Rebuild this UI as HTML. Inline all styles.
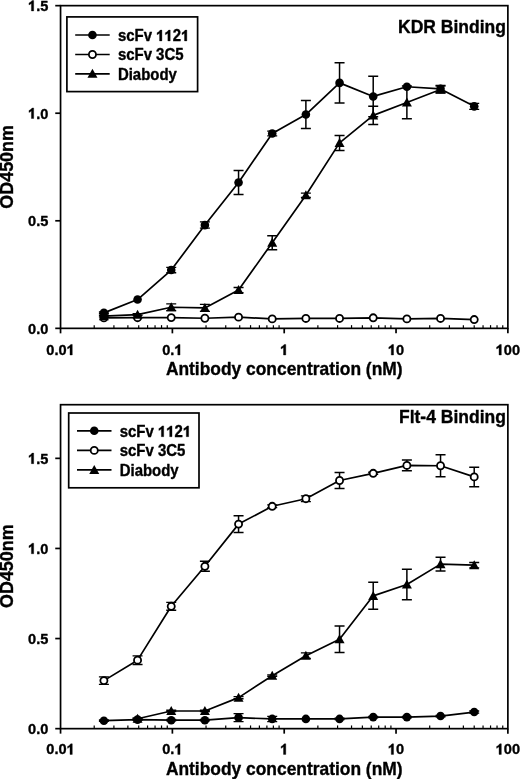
<!DOCTYPE html>
<html><head><meta charset="utf-8"><style>
html,body{margin:0;padding:0;background:#fff;}
svg{display:block;will-change:transform;}
.t{font-family:"Liberation Sans",sans-serif;font-weight:bold;font-size:14.6px;fill:#000;}
.lg{font-family:"Liberation Sans",sans-serif;font-weight:bold;font-size:14.95px;fill:#000;}
.tt{font-family:"Liberation Sans",sans-serif;font-weight:bold;font-size:17.5px;fill:#000;}
.at{font-family:"Liberation Sans",sans-serif;font-weight:bold;font-size:17.4px;fill:#000;}
.yt{font-family:"Liberation Sans",sans-serif;font-weight:bold;font-size:17.9px;fill:#000;}
text{stroke:#000;stroke-width:0.35px;stroke-linejoin:round;font-kerning:none;}
</style></head><body>
<svg width="520" height="779" viewBox="0 0 520 779">
<rect width="520" height="779" fill="#fff"/>
<rect x="60.55" y="5.65" width="447.32" height="322.70" fill="none" stroke="#000" stroke-width="1.7"/>
<line x1="55.25" y1="328.35" x2="60.55" y2="328.35" stroke="#000" stroke-width="1.7"/>
<text transform="translate(48.35,333.65) scale(1,1.05)" text-anchor="end" class="t">0.0</text>
<line x1="55.25" y1="220.79" x2="60.55" y2="220.79" stroke="#000" stroke-width="1.7"/>
<text transform="translate(48.35,226.09) scale(1,1.05)" text-anchor="end" class="t">0.5</text>
<line x1="55.25" y1="113.22" x2="60.55" y2="113.22" stroke="#000" stroke-width="1.7"/>
<g transform="translate(48.35,118.52) scale(1,1.05)"><text x="-12.18 -8.12" y="0" class="t">.0</text><path transform="translate(-20.30,0) scale(0.00713,-0.00713)" d="M790,0 L470,0 L470,1010 C370,925 260,860 130,810 L130,1070 C215,1100 310,1155 400,1230 C490,1305 550,1365 585,1409 L790,1409 Z" fill="#000" stroke="#000" stroke-width="49.1" stroke-linejoin="round"/></g>
<line x1="55.25" y1="5.66" x2="60.55" y2="5.66" stroke="#000" stroke-width="1.7"/>
<g transform="translate(48.35,10.96) scale(1,1.05)"><text x="-12.18 -8.12" y="0" class="t">.5</text><path transform="translate(-20.30,0) scale(0.00713,-0.00713)" d="M790,0 L470,0 L470,1010 C370,925 260,860 130,810 L130,1070 C215,1100 310,1155 400,1230 C490,1305 550,1365 585,1409 L790,1409 Z" fill="#000" stroke="#000" stroke-width="49.1" stroke-linejoin="round"/></g>
<line x1="60.55" y1="328.35" x2="60.55" y2="333.35" stroke="#000" stroke-width="1.7"/>
<g transform="translate(60.55,355.00) scale(1,1.05)"><text x="-14.21 -6.09 -2.03" y="0" class="t">0.0</text><path transform="translate(6.09,0) scale(0.00713,-0.00713)" d="M790,0 L470,0 L470,1010 C370,925 260,860 130,810 L130,1070 C215,1100 310,1155 400,1230 C490,1305 550,1365 585,1409 L790,1409 Z" fill="#000" stroke="#000" stroke-width="49.1" stroke-linejoin="round"/></g>
<line x1="94.21" y1="325.15" x2="94.21" y2="328.35" stroke="#000" stroke-width="1.2"/>
<line x1="113.91" y1="325.15" x2="113.91" y2="328.35" stroke="#000" stroke-width="1.2"/>
<line x1="127.88" y1="325.15" x2="127.88" y2="328.35" stroke="#000" stroke-width="1.2"/>
<line x1="138.72" y1="325.15" x2="138.72" y2="328.35" stroke="#000" stroke-width="1.2"/>
<line x1="147.57" y1="325.15" x2="147.57" y2="328.35" stroke="#000" stroke-width="1.2"/>
<line x1="155.06" y1="325.15" x2="155.06" y2="328.35" stroke="#000" stroke-width="1.2"/>
<line x1="161.54" y1="325.15" x2="161.54" y2="328.35" stroke="#000" stroke-width="1.2"/>
<line x1="167.26" y1="325.15" x2="167.26" y2="328.35" stroke="#000" stroke-width="1.2"/>
<line x1="172.38" y1="328.35" x2="172.38" y2="333.35" stroke="#000" stroke-width="1.7"/>
<g transform="translate(172.38,355.00) scale(1,1.05)"><text x="-10.15 -2.03" y="0" class="t">0.</text><path transform="translate(2.03,0) scale(0.00713,-0.00713)" d="M790,0 L470,0 L470,1010 C370,925 260,860 130,810 L130,1070 C215,1100 310,1155 400,1230 C490,1305 550,1365 585,1409 L790,1409 Z" fill="#000" stroke="#000" stroke-width="49.1" stroke-linejoin="round"/></g>
<line x1="206.04" y1="325.15" x2="206.04" y2="328.35" stroke="#000" stroke-width="1.2"/>
<line x1="225.74" y1="325.15" x2="225.74" y2="328.35" stroke="#000" stroke-width="1.2"/>
<line x1="239.71" y1="325.15" x2="239.71" y2="328.35" stroke="#000" stroke-width="1.2"/>
<line x1="250.55" y1="325.15" x2="250.55" y2="328.35" stroke="#000" stroke-width="1.2"/>
<line x1="259.40" y1="325.15" x2="259.40" y2="328.35" stroke="#000" stroke-width="1.2"/>
<line x1="266.89" y1="325.15" x2="266.89" y2="328.35" stroke="#000" stroke-width="1.2"/>
<line x1="273.37" y1="325.15" x2="273.37" y2="328.35" stroke="#000" stroke-width="1.2"/>
<line x1="279.09" y1="325.15" x2="279.09" y2="328.35" stroke="#000" stroke-width="1.2"/>
<line x1="284.21" y1="328.35" x2="284.21" y2="333.35" stroke="#000" stroke-width="1.7"/>
<g transform="translate(284.21,355.00) scale(1,1.05)"><path transform="translate(-4.06,0) scale(0.00713,-0.00713)" d="M790,0 L470,0 L470,1010 C370,925 260,860 130,810 L130,1070 C215,1100 310,1155 400,1230 C490,1305 550,1365 585,1409 L790,1409 Z" fill="#000" stroke="#000" stroke-width="49.1" stroke-linejoin="round"/></g>
<line x1="317.87" y1="325.15" x2="317.87" y2="328.35" stroke="#000" stroke-width="1.2"/>
<line x1="337.57" y1="325.15" x2="337.57" y2="328.35" stroke="#000" stroke-width="1.2"/>
<line x1="351.54" y1="325.15" x2="351.54" y2="328.35" stroke="#000" stroke-width="1.2"/>
<line x1="362.38" y1="325.15" x2="362.38" y2="328.35" stroke="#000" stroke-width="1.2"/>
<line x1="371.23" y1="325.15" x2="371.23" y2="328.35" stroke="#000" stroke-width="1.2"/>
<line x1="378.72" y1="325.15" x2="378.72" y2="328.35" stroke="#000" stroke-width="1.2"/>
<line x1="385.20" y1="325.15" x2="385.20" y2="328.35" stroke="#000" stroke-width="1.2"/>
<line x1="390.92" y1="325.15" x2="390.92" y2="328.35" stroke="#000" stroke-width="1.2"/>
<line x1="396.04" y1="328.35" x2="396.04" y2="333.35" stroke="#000" stroke-width="1.7"/>
<g transform="translate(396.04,355.00) scale(1,1.05)"><text x="0.00" y="0" class="t">0</text><path transform="translate(-8.12,0) scale(0.00713,-0.00713)" d="M790,0 L470,0 L470,1010 C370,925 260,860 130,810 L130,1070 C215,1100 310,1155 400,1230 C490,1305 550,1365 585,1409 L790,1409 Z" fill="#000" stroke="#000" stroke-width="49.1" stroke-linejoin="round"/></g>
<line x1="429.70" y1="325.15" x2="429.70" y2="328.35" stroke="#000" stroke-width="1.2"/>
<line x1="449.40" y1="325.15" x2="449.40" y2="328.35" stroke="#000" stroke-width="1.2"/>
<line x1="463.37" y1="325.15" x2="463.37" y2="328.35" stroke="#000" stroke-width="1.2"/>
<line x1="474.21" y1="325.15" x2="474.21" y2="328.35" stroke="#000" stroke-width="1.2"/>
<line x1="483.06" y1="325.15" x2="483.06" y2="328.35" stroke="#000" stroke-width="1.2"/>
<line x1="490.55" y1="325.15" x2="490.55" y2="328.35" stroke="#000" stroke-width="1.2"/>
<line x1="497.03" y1="325.15" x2="497.03" y2="328.35" stroke="#000" stroke-width="1.2"/>
<line x1="502.75" y1="325.15" x2="502.75" y2="328.35" stroke="#000" stroke-width="1.2"/>
<line x1="507.87" y1="328.35" x2="507.87" y2="333.35" stroke="#000" stroke-width="1.7"/>
<g transform="translate(507.87,355.00) scale(1,1.05)"><text x="-4.06 4.06" y="0" class="t">00</text><path transform="translate(-12.18,0) scale(0.00713,-0.00713)" d="M790,0 L470,0 L470,1010 C370,925 260,860 130,810 L130,1070 C215,1100 310,1155 400,1230 C490,1305 550,1365 585,1409 L790,1409 Z" fill="#000" stroke="#000" stroke-width="49.1" stroke-linejoin="round"/></g>
<text transform="translate(505.90,32.70) scale(1,1.05)" text-anchor="end" class="tt">KDR Binding</text>
<text transform="translate(284.21,374.70) scale(1,1.05)" text-anchor="middle" class="at">Antibody concentration (nM)</text>
<text transform="translate(13.40,166.90) rotate(-90) scale(1,1.05)" text-anchor="middle" class="yt">OD450nm</text>
<path d="M103.90,317.92 L137.56,317.70 L171.23,317.59 L204.89,318.24 L238.56,317.16 L272.22,318.88 L305.88,318.45 L339.55,318.45 L373.21,317.81 L406.88,318.88 L440.54,318.45 L474.21,319.53" fill="none" stroke="#000" stroke-width="1.7" stroke-linejoin="round"/>
<path d="M103.90,316.09 L137.56,314.58 L171.23,307.27 L204.89,307.91 L238.56,290.06 L272.22,242.73 L305.88,195.18 L339.55,142.91 L373.21,115.37 L406.88,102.46 L440.54,89.56" fill="none" stroke="#000" stroke-width="1.7" stroke-linejoin="round"/>
<path d="M103.90,312.86 L137.56,299.52 L171.23,270.05 L204.89,225.09 L238.56,182.49 L272.22,133.44 L305.88,114.51 L339.55,82.89 L373.21,96.44 L406.88,86.76 L440.54,88.91 L474.21,106.34" fill="none" stroke="#000" stroke-width="1.7" stroke-linejoin="round"/>
<circle cx="103.90" cy="317.92" r="3.55" fill="#fff" stroke="#000" stroke-width="1.8"/>
<circle cx="137.56" cy="317.70" r="3.55" fill="#fff" stroke="#000" stroke-width="1.8"/>
<circle cx="171.23" cy="317.59" r="3.55" fill="#fff" stroke="#000" stroke-width="1.8"/>
<circle cx="204.89" cy="318.24" r="3.55" fill="#fff" stroke="#000" stroke-width="1.8"/>
<circle cx="238.56" cy="317.16" r="3.55" fill="#fff" stroke="#000" stroke-width="1.8"/>
<circle cx="272.22" cy="318.88" r="3.55" fill="#fff" stroke="#000" stroke-width="1.8"/>
<circle cx="305.88" cy="318.45" r="3.55" fill="#fff" stroke="#000" stroke-width="1.8"/>
<circle cx="339.55" cy="318.45" r="3.55" fill="#fff" stroke="#000" stroke-width="1.8"/>
<circle cx="373.21" cy="317.81" r="3.55" fill="#fff" stroke="#000" stroke-width="1.8"/>
<circle cx="406.88" cy="318.88" r="3.55" fill="#fff" stroke="#000" stroke-width="1.8"/>
<circle cx="440.54" cy="318.45" r="3.55" fill="#fff" stroke="#000" stroke-width="1.8"/>
<circle cx="474.21" cy="319.53" r="3.55" fill="#fff" stroke="#000" stroke-width="1.8"/>
<path d="M98.90,315.23 H108.90 M98.90,316.95 H108.90" stroke="#000" stroke-width="1.3" fill="none"/>
<path d="M103.90,311.14 L108.90,320.14 L98.90,320.14Z" fill="#000"/>
<path d="M132.56,313.72 H142.56 M132.56,315.44 H142.56" stroke="#000" stroke-width="1.3" fill="none"/>
<path d="M137.56,309.63 L142.56,318.63 L132.56,318.63Z" fill="#000"/>
<path d="M166.23,303.83 H176.23 M166.23,310.71 H176.23" stroke="#000" stroke-width="1.3" fill="none"/>
<path d="M171.23,302.32 L176.23,311.32 L166.23,311.32Z" fill="#000"/>
<path d="M199.89,304.47 H209.89 M199.89,311.35 H209.89" stroke="#000" stroke-width="1.3" fill="none"/>
<path d="M204.89,302.96 L209.89,311.96 L199.89,311.96Z" fill="#000"/>
<path d="M233.56,287.48 H243.56 M233.56,292.64 H243.56" stroke="#000" stroke-width="1.3" fill="none"/>
<path d="M238.56,285.11 L243.56,294.11 L233.56,294.11Z" fill="#000"/>
<path d="M272.22,235.63 V249.83 M267.22,235.63 H277.22 M267.22,249.83 H277.22" stroke="#000" stroke-width="1.5" fill="none"/>
<path d="M272.22,237.78 L277.22,246.78 L267.22,246.78Z" fill="#000"/>
<path d="M300.88,193.03 H310.88 M300.88,197.34 H310.88" stroke="#000" stroke-width="1.3" fill="none"/>
<path d="M305.88,190.23 L310.88,199.23 L300.88,199.23Z" fill="#000"/>
<path d="M339.55,135.38 V150.44 M334.55,135.38 H344.55 M334.55,150.44 H344.55" stroke="#000" stroke-width="1.5" fill="none"/>
<path d="M339.55,137.96 L344.55,146.96 L334.55,146.96Z" fill="#000"/>
<path d="M373.21,106.34 V124.41 M368.21,106.34 H378.21 M368.21,124.41 H378.21" stroke="#000" stroke-width="1.5" fill="none"/>
<path d="M373.21,110.42 L378.21,119.42 L368.21,119.42Z" fill="#000"/>
<path d="M406.88,86.11 V118.81 M401.88,86.11 H411.88 M401.88,118.81 H411.88" stroke="#000" stroke-width="1.5" fill="none"/>
<path d="M406.88,97.51 L411.88,106.51 L401.88,106.51Z" fill="#000"/>
<path d="M435.54,86.11 H445.54 M435.54,93.00 H445.54" stroke="#000" stroke-width="1.3" fill="none"/>
<path d="M440.54,84.61 L445.54,93.61 L435.54,93.61Z" fill="#000"/>
<path d="M98.90,312.00 H108.90 M98.90,313.72 H108.90" stroke="#000" stroke-width="1.3" fill="none"/>
<circle cx="103.90" cy="312.86" r="4.3" fill="#000"/>
<circle cx="137.56" cy="299.52" r="4.3" fill="#000"/>
<path d="M166.23,267.36 H176.23 M166.23,272.74 H176.23" stroke="#000" stroke-width="1.3" fill="none"/>
<circle cx="171.23" cy="270.05" r="4.3" fill="#000"/>
<path d="M199.89,221.97 H209.89 M199.89,228.21 H209.89" stroke="#000" stroke-width="1.3" fill="none"/>
<circle cx="204.89" cy="225.09" r="4.3" fill="#000"/>
<path d="M238.56,170.44 V194.54 M233.56,170.44 H243.56 M233.56,194.54 H243.56" stroke="#000" stroke-width="1.5" fill="none"/>
<circle cx="238.56" cy="182.49" r="4.3" fill="#000"/>
<path d="M267.22,131.08 H277.22 M267.22,135.81 H277.22" stroke="#000" stroke-width="1.3" fill="none"/>
<circle cx="272.22" cy="133.44" r="4.3" fill="#000"/>
<path d="M305.88,100.53 V128.49 M300.88,100.53 H310.88 M300.88,128.49 H310.88" stroke="#000" stroke-width="1.5" fill="none"/>
<circle cx="305.88" cy="114.51" r="4.3" fill="#000"/>
<path d="M339.55,62.66 V103.11 M334.55,62.66 H344.55 M334.55,103.11 H344.55" stroke="#000" stroke-width="1.5" fill="none"/>
<circle cx="339.55" cy="82.89" r="4.3" fill="#000"/>
<path d="M373.21,76.22 V116.66 M368.21,76.22 H378.21 M368.21,116.66 H378.21" stroke="#000" stroke-width="1.5" fill="none"/>
<circle cx="373.21" cy="96.44" r="4.3" fill="#000"/>
<circle cx="406.88" cy="86.76" r="4.3" fill="#000"/>
<path d="M435.54,85.47 H445.54 M435.54,92.35 H445.54" stroke="#000" stroke-width="1.3" fill="none"/>
<circle cx="440.54" cy="88.91" r="4.3" fill="#000"/>
<path d="M469.21,103.32 H479.21 M469.21,109.35 H479.21" stroke="#000" stroke-width="1.3" fill="none"/>
<circle cx="474.21" cy="106.34" r="4.3" fill="#000"/>
<rect x="66.90" y="16.90" width="130.70" height="74.70" fill="#fff" stroke="#000" stroke-width="1.7"/>
<line x1="75.20" y1="35.00" x2="109.70" y2="35.00" stroke="#000" stroke-width="1.7"/>
<circle cx="92.45" cy="35.00" r="4.3" fill="#000"/>
<g transform="translate(117.90,40.90) scale(1,1.05)"><text x="0.00 8.31 16.63 25.76 54.86" y="0" class="lg">scFv2</text><path transform="translate(38.23,0) scale(0.00730,-0.00730)" d="M790,0 L470,0 L470,1010 C370,925 260,860 130,810 L130,1070 C215,1100 310,1155 400,1230 C490,1305 550,1365 585,1409 L790,1409 Z" fill="#000" stroke="#000" stroke-width="47.9" stroke-linejoin="round"/><path transform="translate(46.54,0) scale(0.00730,-0.00730)" d="M790,0 L470,0 L470,1010 C370,925 260,860 130,810 L130,1070 C215,1100 310,1155 400,1230 C490,1305 550,1365 585,1409 L790,1409 Z" fill="#000" stroke="#000" stroke-width="47.9" stroke-linejoin="round"/><path transform="translate(63.17,0) scale(0.00730,-0.00730)" d="M790,0 L470,0 L470,1010 C370,925 260,860 130,810 L130,1070 C215,1100 310,1155 400,1230 C490,1305 550,1365 585,1409 L790,1409 Z" fill="#000" stroke="#000" stroke-width="47.9" stroke-linejoin="round"/></g>
<line x1="75.20" y1="54.50" x2="109.70" y2="54.50" stroke="#000" stroke-width="1.7"/>
<circle cx="92.45" cy="54.50" r="3.55" fill="#fff" stroke="#000" stroke-width="1.8"/>
<text transform="translate(117.90,60.40) scale(1,1.05)" class="lg">scFv 3C5</text>
<line x1="75.20" y1="73.80" x2="109.70" y2="73.80" stroke="#000" stroke-width="1.7"/>
<path d="M92.45,68.85 L97.45,77.85 L87.45,77.85Z" fill="#000"/>
<text transform="translate(117.90,79.70) scale(1,1.05)" class="lg">Diabody</text>
<rect x="60.55" y="404.70" width="447.32" height="323.95" fill="none" stroke="#000" stroke-width="1.7"/>
<line x1="55.25" y1="728.65" x2="60.55" y2="728.65" stroke="#000" stroke-width="1.7"/>
<text transform="translate(48.35,733.95) scale(1,1.05)" text-anchor="end" class="t">0.0</text>
<line x1="55.25" y1="638.55" x2="60.55" y2="638.55" stroke="#000" stroke-width="1.7"/>
<text transform="translate(48.35,643.85) scale(1,1.05)" text-anchor="end" class="t">0.5</text>
<line x1="55.25" y1="548.45" x2="60.55" y2="548.45" stroke="#000" stroke-width="1.7"/>
<g transform="translate(48.35,553.75) scale(1,1.05)"><text x="-12.18 -8.12" y="0" class="t">.0</text><path transform="translate(-20.30,0) scale(0.00713,-0.00713)" d="M790,0 L470,0 L470,1010 C370,925 260,860 130,810 L130,1070 C215,1100 310,1155 400,1230 C490,1305 550,1365 585,1409 L790,1409 Z" fill="#000" stroke="#000" stroke-width="49.1" stroke-linejoin="round"/></g>
<line x1="55.25" y1="458.35" x2="60.55" y2="458.35" stroke="#000" stroke-width="1.7"/>
<g transform="translate(48.35,463.65) scale(1,1.05)"><text x="-12.18 -8.12" y="0" class="t">.5</text><path transform="translate(-20.30,0) scale(0.00713,-0.00713)" d="M790,0 L470,0 L470,1010 C370,925 260,860 130,810 L130,1070 C215,1100 310,1155 400,1230 C490,1305 550,1365 585,1409 L790,1409 Z" fill="#000" stroke="#000" stroke-width="49.1" stroke-linejoin="round"/></g>
<line x1="60.55" y1="728.65" x2="60.55" y2="733.65" stroke="#000" stroke-width="1.7"/>
<g transform="translate(60.55,754.40) scale(1,1.05)"><text x="-14.21 -6.09 -2.03" y="0" class="t">0.0</text><path transform="translate(6.09,0) scale(0.00713,-0.00713)" d="M790,0 L470,0 L470,1010 C370,925 260,860 130,810 L130,1070 C215,1100 310,1155 400,1230 C490,1305 550,1365 585,1409 L790,1409 Z" fill="#000" stroke="#000" stroke-width="49.1" stroke-linejoin="round"/></g>
<line x1="94.21" y1="725.45" x2="94.21" y2="728.65" stroke="#000" stroke-width="1.2"/>
<line x1="113.91" y1="725.45" x2="113.91" y2="728.65" stroke="#000" stroke-width="1.2"/>
<line x1="127.88" y1="725.45" x2="127.88" y2="728.65" stroke="#000" stroke-width="1.2"/>
<line x1="138.72" y1="725.45" x2="138.72" y2="728.65" stroke="#000" stroke-width="1.2"/>
<line x1="147.57" y1="725.45" x2="147.57" y2="728.65" stroke="#000" stroke-width="1.2"/>
<line x1="155.06" y1="725.45" x2="155.06" y2="728.65" stroke="#000" stroke-width="1.2"/>
<line x1="161.54" y1="725.45" x2="161.54" y2="728.65" stroke="#000" stroke-width="1.2"/>
<line x1="167.26" y1="725.45" x2="167.26" y2="728.65" stroke="#000" stroke-width="1.2"/>
<line x1="172.38" y1="728.65" x2="172.38" y2="733.65" stroke="#000" stroke-width="1.7"/>
<g transform="translate(172.38,754.40) scale(1,1.05)"><text x="-10.15 -2.03" y="0" class="t">0.</text><path transform="translate(2.03,0) scale(0.00713,-0.00713)" d="M790,0 L470,0 L470,1010 C370,925 260,860 130,810 L130,1070 C215,1100 310,1155 400,1230 C490,1305 550,1365 585,1409 L790,1409 Z" fill="#000" stroke="#000" stroke-width="49.1" stroke-linejoin="round"/></g>
<line x1="206.04" y1="725.45" x2="206.04" y2="728.65" stroke="#000" stroke-width="1.2"/>
<line x1="225.74" y1="725.45" x2="225.74" y2="728.65" stroke="#000" stroke-width="1.2"/>
<line x1="239.71" y1="725.45" x2="239.71" y2="728.65" stroke="#000" stroke-width="1.2"/>
<line x1="250.55" y1="725.45" x2="250.55" y2="728.65" stroke="#000" stroke-width="1.2"/>
<line x1="259.40" y1="725.45" x2="259.40" y2="728.65" stroke="#000" stroke-width="1.2"/>
<line x1="266.89" y1="725.45" x2="266.89" y2="728.65" stroke="#000" stroke-width="1.2"/>
<line x1="273.37" y1="725.45" x2="273.37" y2="728.65" stroke="#000" stroke-width="1.2"/>
<line x1="279.09" y1="725.45" x2="279.09" y2="728.65" stroke="#000" stroke-width="1.2"/>
<line x1="284.21" y1="728.65" x2="284.21" y2="733.65" stroke="#000" stroke-width="1.7"/>
<g transform="translate(284.21,754.40) scale(1,1.05)"><path transform="translate(-4.06,0) scale(0.00713,-0.00713)" d="M790,0 L470,0 L470,1010 C370,925 260,860 130,810 L130,1070 C215,1100 310,1155 400,1230 C490,1305 550,1365 585,1409 L790,1409 Z" fill="#000" stroke="#000" stroke-width="49.1" stroke-linejoin="round"/></g>
<line x1="317.87" y1="725.45" x2="317.87" y2="728.65" stroke="#000" stroke-width="1.2"/>
<line x1="337.57" y1="725.45" x2="337.57" y2="728.65" stroke="#000" stroke-width="1.2"/>
<line x1="351.54" y1="725.45" x2="351.54" y2="728.65" stroke="#000" stroke-width="1.2"/>
<line x1="362.38" y1="725.45" x2="362.38" y2="728.65" stroke="#000" stroke-width="1.2"/>
<line x1="371.23" y1="725.45" x2="371.23" y2="728.65" stroke="#000" stroke-width="1.2"/>
<line x1="378.72" y1="725.45" x2="378.72" y2="728.65" stroke="#000" stroke-width="1.2"/>
<line x1="385.20" y1="725.45" x2="385.20" y2="728.65" stroke="#000" stroke-width="1.2"/>
<line x1="390.92" y1="725.45" x2="390.92" y2="728.65" stroke="#000" stroke-width="1.2"/>
<line x1="396.04" y1="728.65" x2="396.04" y2="733.65" stroke="#000" stroke-width="1.7"/>
<g transform="translate(396.04,754.40) scale(1,1.05)"><text x="0.00" y="0" class="t">0</text><path transform="translate(-8.12,0) scale(0.00713,-0.00713)" d="M790,0 L470,0 L470,1010 C370,925 260,860 130,810 L130,1070 C215,1100 310,1155 400,1230 C490,1305 550,1365 585,1409 L790,1409 Z" fill="#000" stroke="#000" stroke-width="49.1" stroke-linejoin="round"/></g>
<line x1="429.70" y1="725.45" x2="429.70" y2="728.65" stroke="#000" stroke-width="1.2"/>
<line x1="449.40" y1="725.45" x2="449.40" y2="728.65" stroke="#000" stroke-width="1.2"/>
<line x1="463.37" y1="725.45" x2="463.37" y2="728.65" stroke="#000" stroke-width="1.2"/>
<line x1="474.21" y1="725.45" x2="474.21" y2="728.65" stroke="#000" stroke-width="1.2"/>
<line x1="483.06" y1="725.45" x2="483.06" y2="728.65" stroke="#000" stroke-width="1.2"/>
<line x1="490.55" y1="725.45" x2="490.55" y2="728.65" stroke="#000" stroke-width="1.2"/>
<line x1="497.03" y1="725.45" x2="497.03" y2="728.65" stroke="#000" stroke-width="1.2"/>
<line x1="502.75" y1="725.45" x2="502.75" y2="728.65" stroke="#000" stroke-width="1.2"/>
<line x1="507.87" y1="728.65" x2="507.87" y2="733.65" stroke="#000" stroke-width="1.7"/>
<g transform="translate(507.87,754.40) scale(1,1.05)"><text x="-4.06 4.06" y="0" class="t">00</text><path transform="translate(-12.18,0) scale(0.00713,-0.00713)" d="M790,0 L470,0 L470,1010 C370,925 260,860 130,810 L130,1070 C215,1100 310,1155 400,1230 C490,1305 550,1365 585,1409 L790,1409 Z" fill="#000" stroke="#000" stroke-width="49.1" stroke-linejoin="round"/></g>
<text transform="translate(505.90,422.50) scale(1,1.05)" text-anchor="end" class="tt">Flt-4 Binding</text>
<text transform="translate(284.21,775.30) scale(1,1.05)" text-anchor="middle" class="at">Antibody concentration (nM)</text>
<text transform="translate(13.40,566.20) rotate(-90) scale(1,1.05)" text-anchor="middle" class="yt">OD450nm</text>
<path d="M103.90,680.61 L137.56,660.17 L171.23,606.29 L204.89,566.29 L238.56,524.12 L272.22,506.28 L305.88,498.71 L339.55,480.51 L373.21,473.31 L406.88,465.38 L440.54,465.74 L474.21,476.91" fill="none" stroke="#000" stroke-width="1.7" stroke-linejoin="round"/>
<path d="M137.56,718.74 L171.23,710.99 L204.89,710.99 L238.56,697.66 L272.22,675.67 L305.88,655.67 L339.55,639.27 L373.21,595.84 L406.88,584.49 L440.54,564.13 L474.21,565.21" fill="none" stroke="#000" stroke-width="1.7" stroke-linejoin="round"/>
<path d="M103.90,720.72 L137.56,719.64 L171.23,720.18 L204.89,720.18 L238.56,717.66 L272.22,718.92 L305.88,718.92 L339.55,718.92 L373.21,717.12 L406.88,717.12 L440.54,716.04 L474.21,712.07" fill="none" stroke="#000" stroke-width="1.7" stroke-linejoin="round"/>
<path d="M98.90,676.82 H108.90 M98.90,684.39 H108.90" stroke="#000" stroke-width="1.3" fill="none"/>
<circle cx="103.90" cy="680.61" r="3.55" fill="#fff" stroke="#000" stroke-width="1.8"/>
<path d="M132.56,655.85 H142.56 M132.56,664.50 H142.56" stroke="#000" stroke-width="1.3" fill="none"/>
<circle cx="137.56" cy="660.17" r="3.55" fill="#fff" stroke="#000" stroke-width="1.8"/>
<path d="M166.23,602.33 H176.23 M166.23,610.26 H176.23" stroke="#000" stroke-width="1.3" fill="none"/>
<circle cx="171.23" cy="606.29" r="3.55" fill="#fff" stroke="#000" stroke-width="1.8"/>
<path d="M204.89,561.24 V571.34 M199.89,561.24 H209.89 M199.89,571.34 H209.89" stroke="#000" stroke-width="1.5" fill="none"/>
<circle cx="204.89" cy="566.29" r="3.55" fill="#fff" stroke="#000" stroke-width="1.8"/>
<path d="M238.56,515.65 V532.59 M233.56,515.65 H243.56 M233.56,532.59 H243.56" stroke="#000" stroke-width="1.5" fill="none"/>
<circle cx="238.56" cy="524.12" r="3.55" fill="#fff" stroke="#000" stroke-width="1.8"/>
<path d="M267.22,504.84 H277.22 M267.22,507.72 H277.22" stroke="#000" stroke-width="1.3" fill="none"/>
<circle cx="272.22" cy="506.28" r="3.55" fill="#fff" stroke="#000" stroke-width="1.8"/>
<path d="M300.88,495.83 H310.88 M300.88,501.60 H310.88" stroke="#000" stroke-width="1.3" fill="none"/>
<circle cx="305.88" cy="498.71" r="3.55" fill="#fff" stroke="#000" stroke-width="1.8"/>
<path d="M339.55,472.59 V488.44 M334.55,472.59 H344.55 M334.55,488.44 H344.55" stroke="#000" stroke-width="1.5" fill="none"/>
<circle cx="339.55" cy="480.51" r="3.55" fill="#fff" stroke="#000" stroke-width="1.8"/>
<path d="M368.21,472.23 H378.21 M368.21,474.39 H378.21" stroke="#000" stroke-width="1.3" fill="none"/>
<circle cx="373.21" cy="473.31" r="3.55" fill="#fff" stroke="#000" stroke-width="1.8"/>
<path d="M406.88,459.97 V470.78 M401.88,459.97 H411.88 M401.88,470.78 H411.88" stroke="#000" stroke-width="1.5" fill="none"/>
<circle cx="406.88" cy="465.38" r="3.55" fill="#fff" stroke="#000" stroke-width="1.8"/>
<path d="M440.54,454.75 V476.73 M435.54,454.75 H445.54 M435.54,476.73 H445.54" stroke="#000" stroke-width="1.5" fill="none"/>
<circle cx="440.54" cy="465.74" r="3.55" fill="#fff" stroke="#000" stroke-width="1.8"/>
<path d="M474.21,467.18 V486.64 M469.21,467.18 H479.21 M469.21,486.64 H479.21" stroke="#000" stroke-width="1.5" fill="none"/>
<circle cx="474.21" cy="476.91" r="3.55" fill="#fff" stroke="#000" stroke-width="1.8"/>
<path d="M132.56,718.02 H142.56 M132.56,719.46 H142.56" stroke="#000" stroke-width="1.3" fill="none"/>
<path d="M137.56,713.79 L142.56,722.79 L132.56,722.79Z" fill="#000"/>
<path d="M166.23,710.27 H176.23 M166.23,711.71 H176.23" stroke="#000" stroke-width="1.3" fill="none"/>
<path d="M171.23,706.04 L176.23,715.04 L166.23,715.04Z" fill="#000"/>
<path d="M199.89,710.27 H209.89 M199.89,711.71 H209.89" stroke="#000" stroke-width="1.3" fill="none"/>
<path d="M204.89,706.04 L209.89,715.04 L199.89,715.04Z" fill="#000"/>
<path d="M233.56,696.57 H243.56 M233.56,698.74 H243.56" stroke="#000" stroke-width="1.3" fill="none"/>
<path d="M238.56,692.71 L243.56,701.71 L233.56,701.71Z" fill="#000"/>
<path d="M267.22,674.95 H277.22 M267.22,676.39 H277.22" stroke="#000" stroke-width="1.3" fill="none"/>
<path d="M272.22,670.72 L277.22,679.72 L267.22,679.72Z" fill="#000"/>
<path d="M300.88,652.97 H310.88 M300.88,658.37 H310.88" stroke="#000" stroke-width="1.3" fill="none"/>
<path d="M305.88,650.72 L310.88,659.72 L300.88,659.72Z" fill="#000"/>
<path d="M339.55,625.94 V652.61 M334.55,625.94 H344.55 M334.55,652.61 H344.55" stroke="#000" stroke-width="1.5" fill="none"/>
<path d="M339.55,634.32 L344.55,643.32 L334.55,643.32Z" fill="#000"/>
<path d="M373.21,582.33 V609.36 M368.21,582.33 H378.21 M368.21,609.36 H378.21" stroke="#000" stroke-width="1.5" fill="none"/>
<path d="M373.21,590.89 L378.21,599.89 L368.21,599.89Z" fill="#000"/>
<path d="M406.88,569.17 V599.81 M401.88,569.17 H411.88 M401.88,599.81 H411.88" stroke="#000" stroke-width="1.5" fill="none"/>
<path d="M406.88,579.54 L411.88,588.54 L401.88,588.54Z" fill="#000"/>
<path d="M440.54,557.37 V570.88 M435.54,557.37 H445.54 M435.54,570.88 H445.54" stroke="#000" stroke-width="1.5" fill="none"/>
<path d="M440.54,559.18 L445.54,568.18 L435.54,568.18Z" fill="#000"/>
<path d="M469.21,562.51 H479.21 M469.21,567.91 H479.21" stroke="#000" stroke-width="1.3" fill="none"/>
<path d="M474.21,560.26 L479.21,569.26 L469.21,569.26Z" fill="#000"/>
<path d="M98.90,720.00 H108.90 M98.90,721.44 H108.90" stroke="#000" stroke-width="1.3" fill="none"/>
<circle cx="103.90" cy="720.72" r="4.3" fill="#000"/>
<path d="M132.56,718.92 H142.56 M132.56,720.36 H142.56" stroke="#000" stroke-width="1.3" fill="none"/>
<circle cx="137.56" cy="719.64" r="4.3" fill="#000"/>
<path d="M166.23,719.46 H176.23 M166.23,720.90 H176.23" stroke="#000" stroke-width="1.3" fill="none"/>
<circle cx="171.23" cy="720.18" r="4.3" fill="#000"/>
<path d="M199.89,719.46 H209.89 M199.89,720.90 H209.89" stroke="#000" stroke-width="1.3" fill="none"/>
<circle cx="204.89" cy="720.18" r="4.3" fill="#000"/>
<path d="M233.56,713.69 H243.56 M233.56,721.62 H243.56" stroke="#000" stroke-width="1.3" fill="none"/>
<circle cx="238.56" cy="717.66" r="4.3" fill="#000"/>
<path d="M267.22,716.31 H277.22 M267.22,721.53 H277.22" stroke="#000" stroke-width="1.3" fill="none"/>
<circle cx="272.22" cy="718.92" r="4.3" fill="#000"/>
<circle cx="305.88" cy="718.92" r="4.3" fill="#000"/>
<path d="M334.55,718.20 H344.55 M334.55,719.64 H344.55" stroke="#000" stroke-width="1.3" fill="none"/>
<circle cx="339.55" cy="718.92" r="4.3" fill="#000"/>
<path d="M368.21,716.40 H378.21 M368.21,717.84 H378.21" stroke="#000" stroke-width="1.3" fill="none"/>
<circle cx="373.21" cy="717.12" r="4.3" fill="#000"/>
<path d="M401.88,716.40 H411.88 M401.88,717.84 H411.88" stroke="#000" stroke-width="1.3" fill="none"/>
<circle cx="406.88" cy="717.12" r="4.3" fill="#000"/>
<path d="M435.54,715.32 H445.54 M435.54,716.76 H445.54" stroke="#000" stroke-width="1.3" fill="none"/>
<circle cx="440.54" cy="716.04" r="4.3" fill="#000"/>
<path d="M469.21,710.99 H479.21 M469.21,713.15 H479.21" stroke="#000" stroke-width="1.3" fill="none"/>
<circle cx="474.21" cy="712.07" r="4.3" fill="#000"/>
<rect x="68.70" y="413.00" width="130.30" height="74.80" fill="#fff" stroke="#000" stroke-width="1.7"/>
<line x1="77.00" y1="430.80" x2="111.50" y2="430.80" stroke="#000" stroke-width="1.7"/>
<circle cx="94.25" cy="430.80" r="4.3" fill="#000"/>
<g transform="translate(119.70,436.70) scale(1,1.05)"><text x="0.00 8.31 16.63 25.76 54.86" y="0" class="lg">scFv2</text><path transform="translate(38.23,0) scale(0.00730,-0.00730)" d="M790,0 L470,0 L470,1010 C370,925 260,860 130,810 L130,1070 C215,1100 310,1155 400,1230 C490,1305 550,1365 585,1409 L790,1409 Z" fill="#000" stroke="#000" stroke-width="47.9" stroke-linejoin="round"/><path transform="translate(46.54,0) scale(0.00730,-0.00730)" d="M790,0 L470,0 L470,1010 C370,925 260,860 130,810 L130,1070 C215,1100 310,1155 400,1230 C490,1305 550,1365 585,1409 L790,1409 Z" fill="#000" stroke="#000" stroke-width="47.9" stroke-linejoin="round"/><path transform="translate(63.17,0) scale(0.00730,-0.00730)" d="M790,0 L470,0 L470,1010 C370,925 260,860 130,810 L130,1070 C215,1100 310,1155 400,1230 C490,1305 550,1365 585,1409 L790,1409 Z" fill="#000" stroke="#000" stroke-width="47.9" stroke-linejoin="round"/></g>
<line x1="77.00" y1="450.40" x2="111.50" y2="450.40" stroke="#000" stroke-width="1.7"/>
<circle cx="94.25" cy="450.40" r="3.55" fill="#fff" stroke="#000" stroke-width="1.8"/>
<text transform="translate(119.70,456.30) scale(1,1.05)" class="lg">scFv 3C5</text>
<line x1="77.00" y1="469.90" x2="111.50" y2="469.90" stroke="#000" stroke-width="1.7"/>
<path d="M94.25,464.95 L99.25,473.95 L89.25,473.95Z" fill="#000"/>
<text transform="translate(119.70,475.80) scale(1,1.05)" class="lg">Diabody</text>
</svg>
</body></html>
